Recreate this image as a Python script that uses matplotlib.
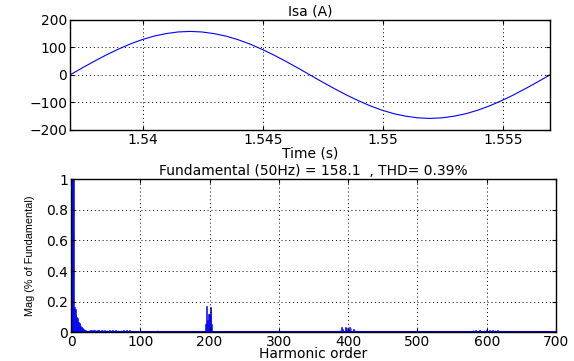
import numpy as np
import matplotlib
matplotlib.use("Agg")
import matplotlib.pyplot as plt

# Isa (A) over one 50 Hz cycle (0.5 ms steps)
T_START = 1.53695
T_STEP = 0.0005
isa = [0, 25, 49, 72, 93, 112, 128, 141, 150, 156, 158,
       156, 150, 141, 128, 112, 93, 72, 49, 25, 0,
       -25, -49, -72, -93, -112, -128, -141, -150, -156, -158,
       -156, -150, -141, -128, -112, -93, -72, -49, -25, 0]
time_ticks = [1.54, 1.545, 1.55, 1.555]
isa_ticks = [-200, -100, 0, 100, 200]

# harmonic spectrum (% of fundamental)
harm_order = [1, 2, 3, 4, 5, 6, 7, 8, 9, 10, 11, 12, 13, 14, 15, 16, 17, 18, 19, 20,
              21, 22, 23, 26, 28, 30, 32, 34, 36, 38, 40,
              44, 46, 48, 52, 56, 60, 64, 68, 72, 76, 80, 84, 124,
              194, 195, 196, 197, 198, 199, 200, 201, 202, 203,
              388, 390, 392, 396, 398, 400, 402, 404, 408, 410,
              580, 584, 590, 596, 600, 604, 608, 612, 616]
harm_mag = [100, 1.8, 1.3, 1.05, 0.165, 0.15, 0.12, 0.10, 0.09, 0.075, 0.065, 0.06, 0.05,
            0.04, 0.035, 0.03, 0.025, 0.02, 0.015, 0.012,
            0.01, 0.008, 0.006, 0.012, 0.015, 0.016, 0.014, 0.012, 0.013, 0.011, 0.01,
            0.01, 0.012, 0.01, 0.01, 0.012, 0.01, 0.012, 0.01, 0.01, 0.012, 0.01, 0.01, 0.012,
            0.05, 0.06, 0.17, 0.08, 0.12, 0.12, 0.12, 0.165, 0.16, 0.05,
            0.015, 0.03, 0.02, 0.03, 0.025, 0.02, 0.03, 0.025, 0.02, 0.015,
            0.01, 0.012, 0.01, 0.012, 0.01, 0.012, 0.015, 0.012, 0.01]
harm_xticks = [0, 100, 200, 300, 400, 500, 600, 700]
mag_ticks = [0, 0.2, 0.4, 0.6, 0.8, 1]

plt.rcParams["font.family"] = "DejaVu Sans"
plt.rcParams["font.size"] = 10

fig = plt.figure(figsize=(5.74, 3.61), dpi=100)

grid_kw = dict(color="black", linestyle=(0, (1, 3)), linewidth=0.7)

# top: current waveform
ax1 = fig.add_axes([0.122, 0.640, 0.836, 0.305])
t = T_START + T_STEP * np.arange(len(isa))
ax1.plot(t, isa, color="blue", linewidth=0.8)
ax1.set_xlim(1.53695, 1.55695)
ax1.set_ylim(-200, 200)
ax1.set_xticks(time_ticks)
ax1.set_xticklabels(["1.54", "1.545", "1.55", "1.555"])
ax1.set_yticks(isa_ticks)
ax1.grid(True, **grid_kw)
ax1.set_title("Isa (A)", fontsize=10, pad=3)
ax1.set_xlabel("Time (s)", fontsize=10, labelpad=0)

# bottom: harmonic spectrum
ax2 = fig.add_axes([0.1237, 0.0803, 0.845, 0.4225])
ax2.bar(harm_order, harm_mag, width=1.0, color="blue", edgecolor="blue", linewidth=0.4)
ax2.axhline(0, color="blue", linewidth=1.5)
ax2.set_xlim(0, 700)
ax2.set_ylim(0, 1)
ax2.set_xticks(harm_xticks)
ax2.set_yticks(mag_ticks)
ax2.set_yticklabels(["0", "0.2", "0.4", "0.6", "0.8", "1"])
ax2.grid(True, **grid_kw)
ax2.set_title("Fundamental (50Hz) = 158.1  , THD= 0.39%", fontsize=10, pad=3)
ax2.set_xlabel("Harmonic order", fontsize=10, labelpad=-1)
ax2.set_ylabel("Mag (% of Fundamental)", fontsize=7.8,
               family=["Liberation Sans Narrow", "Liberation Sans"], labelpad=8)

for ax in (ax1, ax2):
    ax.set_axisbelow(False)
    ax.tick_params(direction="in", length=3, width=0.8, pad=2, labelsize=10,
                   top=True, right=True)
    for s in ax.spines.values():
        s.set_linewidth(1.0)

fig.savefig("out.png", dpi=100)
